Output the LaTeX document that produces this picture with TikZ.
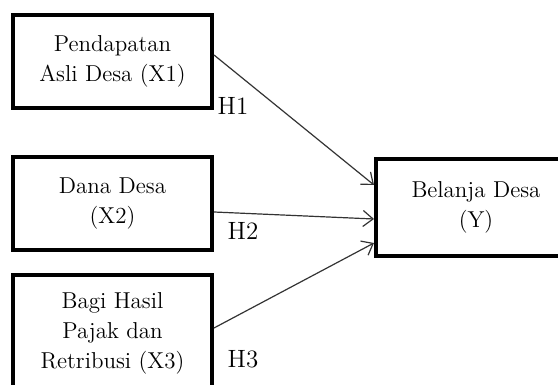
\documentclass[tikz,border=0pt]{standalone}
\usepackage{tikz}
\usetikzlibrary{arrows.meta}
\usetikzlibrary{calc}
\usetikzlibrary{positioning}

\begin{document}
\begin{tikzpicture}
	[x=0.5pt, y=-0.5pt,
	every node/.style = {align=center, font=\fontsize{11.5}{15}\selectfont},
	varbox/.style = {shape=rectangle, draw=black, line width=2pt, minimum width=99.5pt},
	hyplabel/.style = {inner sep=0pt, font=\fontsize{12.5}{15}\selectfont},
	hyparrow/.style = {draw=black!80, line width=0.6pt, -{Straight Barb[length=5pt,width=8pt]}}]
	\clip (0,0) rectangle (558,385);
	% variabel independen
	\node[varbox, minimum height=46.5pt] (X1) at (112.5,61.5) {Pendapatan\\Asli Desa (X1)};
	\node[varbox, minimum height=46.5pt] (X2) at (112.5,203.5) {Dana Desa\\(X2)};
	\node[varbox, minimum height=58pt] (X3) at (112.5,333) {Bagi Hasil\\Pajak dan\\Retribusi (X3)};
	% variabel dependen
	\node[varbox, minimum width=100pt, minimum height=48.5pt] (Y) at (476,207.5) {Belanja Desa\\(Y)};
	% hipotesis
	\draw[hyparrow] ($ (X1.east) + (0,-6.5) $) -- ($ (Y.west) + (0,-22.5) $);
	\draw[hyparrow] ($ (X2.east) + (0,8.5) $) -- ($ (Y.west) + (0,11.5) $);
	\draw[hyparrow] ($ (X3.east) + (0,-5) $) -- ($ (Y.west) + (0,35.5) $);
	\node[hyplabel] (H1) at (233,106) {H1};
	\node[hyplabel] (H2) at (243,231) {H2};
	\node[hyplabel] (H3) at (243,359) {H3};
\end{tikzpicture}
\end{document}
